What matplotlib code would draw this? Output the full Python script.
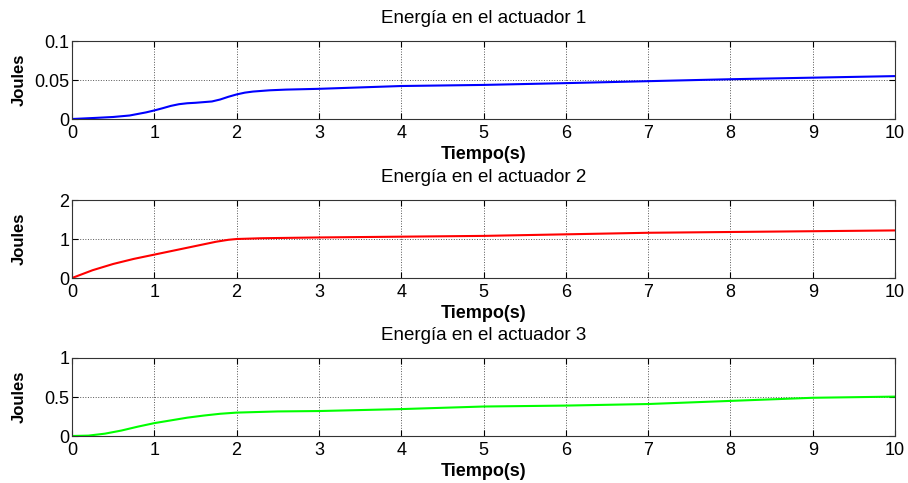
import matplotlib
matplotlib.use('Agg')
import matplotlib.pyplot as plt

plt.rcParams['font.family'] = ['Liberation Sans', 'DejaVu Sans']

# values
t1 = [0, 0.3, 0.5, 0.7, 0.9, 1.0, 1.1, 1.2, 1.3, 1.4, 1.5, 1.7, 1.8, 1.9, 2.0, 2.1, 2.2, 2.4, 2.6, 3, 4, 5, 6, 7, 8, 9, 10]
e1 = [0.0, 0.0015, 0.0026, 0.0045, 0.0085, 0.011, 0.0138, 0.0168, 0.019, 0.0202, 0.0208, 0.0225, 0.025, 0.0285, 0.0315, 0.0338, 0.0352, 0.0368, 0.0377, 0.0387, 0.0423, 0.0437, 0.046, 0.0485, 0.051, 0.053, 0.055]

t2 = [0, 0.25, 0.5, 0.75, 1.0, 1.25, 1.5, 1.75, 1.9, 2.0, 2.3, 3, 4, 5, 6, 7, 8, 9, 10]
e2 = [0.0, 0.2, 0.36, 0.49, 0.6, 0.71, 0.82, 0.93, 0.98, 1.0, 1.02, 1.04, 1.06, 1.08, 1.12, 1.16, 1.18, 1.2, 1.22]

t3 = [0, 0.2, 0.4, 0.6, 0.8, 1.0, 1.2, 1.4, 1.6, 1.8, 2.0, 2.5, 3, 4, 5, 6, 7, 8, 9, 10]
e3 = [0.0, 0.005, 0.03, 0.07, 0.12, 0.165, 0.2, 0.235, 0.262, 0.285, 0.30, 0.315, 0.32, 0.345, 0.378, 0.39, 0.41, 0.45, 0.49, 0.505]

titles = ['Energía en el actuador 1', 'Energía en el actuador 2', 'Energía en el actuador 3']
colors = ['#0000ff', '#ff0000', '#00ff00']
yticks = [[0, 0.05, 0.1], [0, 1, 2], [0, 0.5, 1]]
yticklabels = [['0', '0.05', '0.1'], ['0', '1', '2'], ['0', '0.5', '1']]
xticks = list(range(11))

fig = plt.figure(figsize=(9.08, 4.83), dpi=100)
bottoms = [0.7536, 0.4244, 0.0973]
series = [(t1, e1), (t2, e2), (t3, e3)]

for i in range(3):
    ax = fig.add_axes([0.0793, bottoms[i], 0.9064, 0.1615])
    t, e = series[i]
    ax.plot(t, e, color=colors[i], linewidth=1.5)
    ax.set_xlim(0, 10)
    ax.set_ylim(yticks[i][0], yticks[i][-1])
    ax.set_xticks(xticks)
    ax.set_xticklabels([str(v) for v in xticks])
    ax.set_yticks(yticks[i])
    ax.set_yticklabels(yticklabels[i])
    ax.tick_params(direction='in', labelsize=13, length=4, top=True, right=True)
    ax.tick_params(axis='x', pad=4.5)
    ax.tick_params(axis='y', pad=2)
    ax.grid(True, linestyle=':', color='#555555', linewidth=0.7)
    for s in ax.spines.values():
        s.set_color('#333333')
    ax.set_title(titles[i], fontsize=13.5, pad=13)
    ax.set_xlabel('Tiempo(s)', fontsize=13, fontweight='bold', labelpad=3)
    ax.set_ylabel('Joules', fontsize=12, fontweight='bold')
    ax.yaxis.set_label_coords(-0.055, 0.5)

fig.savefig('out.png', dpi=100)
